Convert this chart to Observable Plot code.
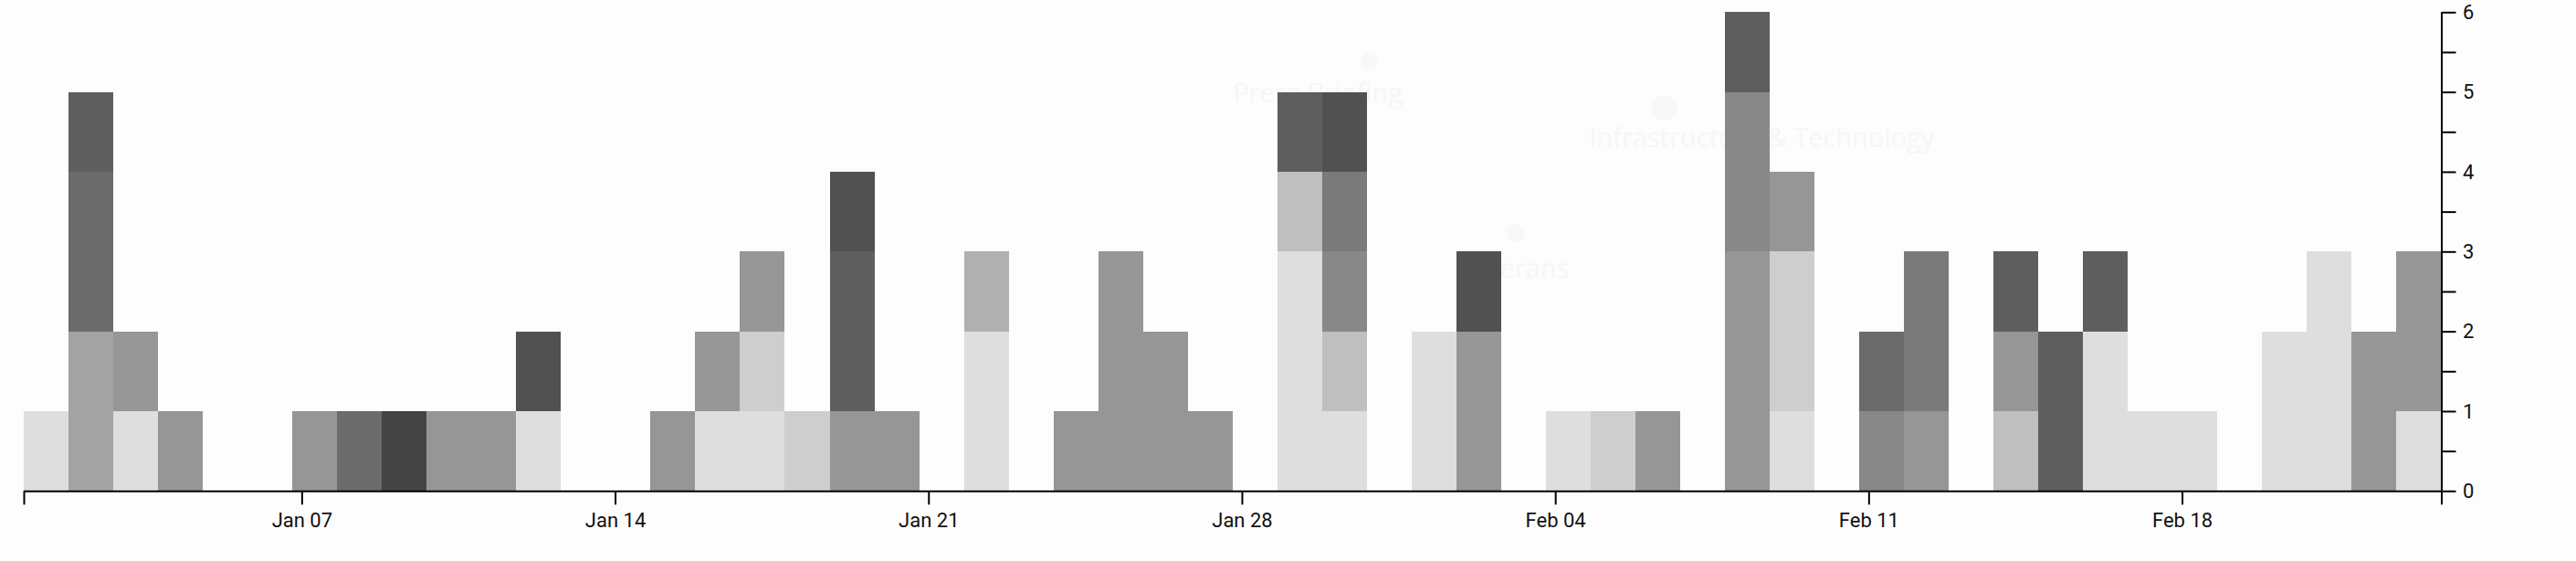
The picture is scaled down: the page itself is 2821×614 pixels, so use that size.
<!DOCTYPE html>
<html>
<head>
<meta charset="utf-8">
<script src="https://cdn.jsdelivr.net/npm/d3@7"></script>
<script src="https://cdn.jsdelivr.net/npm/@observablehq/plot@0.6"></script>
<style>
  html, body { margin: 0; padding: 0; background: #fdfdfd; }
  #chart svg { display: block; }
</style>
</head>
<body>
<div id="chart"></div>
<script>
// ---- data ----
const startDate = "2024-01-01";
const endDate = "2024-02-24";   // exclusive end of the last day (Feb 23)

const categories = ["Category 1","Category 2","Category 3","Category 4","Category 5","Category 6",
                    "Category 7","Category 8","Category 9","Category 10","Category 11","Category 12"];
const greys = ["#dedede","#cecece","#bfbfbf","#b0b0b0","#a3a3a3","#969696",
               "#888888","#7a7a7a","#6b6b6b","#5e5e5e","#515151","#444444"];

// daily counts, Jan 01 .. Feb 23 (54 days), one array per category
const cat1  = [1,0,1,0,0,0,0,0,0,0, 0,1,0,0,0,1,1,0,0,0, 0,2,0,0,0,0,0,0,3,1, 0,2,0,0,1,0,0,0,0,1, 0,0,0,0,0,0,2,1,1,0, 2,3,0,1];
const cat2  = [0,0,0,0,0,0,0,0,0,0, 0,0,0,0,0,0,1,1,0,0, 0,0,0,0,0,0,0,0,0,0, 0,0,0,0,0,1,0,0,0,2, 0,0,0,0,0,0,0,0,0,0, 0,0,0,0];
const cat3  = [0,0,0,0,0,0,0,0,0,0, 0,0,0,0,0,0,0,0,0,0, 0,0,0,0,0,0,0,0,1,1, 0,0,0,0,0,0,0,0,0,0, 0,0,0,0,1,0,0,0,0,0, 0,0,0,0];
const cat4  = [0,0,0,0,0,0,0,0,0,0, 0,0,0,0,0,0,0,0,0,0, 0,1,0,0,0,0,0,0,0,0, 0,0,0,0,0,0,0,0,0,0, 0,0,0,0,0,0,0,0,0,0, 0,0,0,0];
const cat5  = [0,2,0,0,0,0,0,0,0,0, 0,0,0,0,0,0,0,0,0,0, 0,0,0,0,0,0,0,0,0,0, 0,0,0,0,0,0,0,0,0,0, 0,0,0,0,0,0,0,0,0,0, 0,0,0,0];
const cat6  = [0,0,1,1,0,0,1,0,0,1, 1,0,0,0,1,1,1,0,1,1, 0,0,0,1,3,2,1,0,0,0, 0,0,2,0,0,0,1,0,3,1, 0,0,1,0,1,0,0,0,0,0, 0,0,2,2];
const cat7  = [0,0,0,0,0,0,0,0,0,0, 0,0,0,0,0,0,0,0,0,0, 0,0,0,0,0,0,0,0,0,1, 0,0,0,0,0,0,0,0,2,0, 0,1,0,0,0,0,0,0,0,0, 0,0,0,0];
const cat8  = [0,0,0,0,0,0,0,0,0,0, 0,0,0,0,0,0,0,0,0,0, 0,0,0,0,0,0,0,0,0,1, 0,0,0,0,0,0,0,0,0,0, 0,0,2,0,0,0,0,0,0,0, 0,0,0,0];
const cat9  = [0,2,0,0,0,0,0,1,0,0, 0,0,0,0,0,0,0,0,0,0, 0,0,0,0,0,0,0,0,0,0, 0,0,0,0,0,0,0,0,0,0, 0,1,0,0,0,0,0,0,0,0, 0,0,0,0];
const cat10 = [0,1,0,0,0,0,0,0,0,0, 0,0,0,0,0,0,0,0,2,0, 0,0,0,0,0,0,0,0,1,0, 0,0,0,0,0,0,0,0,1,0, 0,0,0,0,1,2,1,0,0,0, 0,0,0,0];
const cat11 = [0,0,0,0,0,0,0,0,0,0, 0,1,0,0,0,0,0,0,1,0, 0,0,0,0,0,0,0,0,0,1, 0,0,1,0,0,0,0,0,0,0, 0,0,0,0,0,0,0,0,0,0, 0,0,0,0];
const cat12 = [0,0,0,0,0,0,0,0,1,0, 0,0,0,0,0,0,0,0,0,0, 0,0,0,0,0,0,0,0,0,0, 0,0,0,0,0,0,0,0,0,0, 0,0,0,0,0,0,0,0,0,0, 0,0,0,0];
const seriesCounts = [cat1,cat2,cat3,cat4,cat5,cat6,cat7,cat8,cat9,cat10,cat11,cat12];

// weekly ticks (local midnight, US Eastern) and labels
const xTickDates  = ["2024-01-07T00:00-05:00","2024-01-14T00:00-05:00","2024-01-21T00:00-05:00",
                     "2024-01-28T00:00-05:00","2024-02-04T00:00-05:00","2024-02-11T00:00-05:00",
                     "2024-02-18T00:00-05:00"];
const xTickLabels = ["Jan 07","Jan 14","Jan 21","Jan 28","Feb 04","Feb 11","Feb 18"];
const yTicks      = [0,0.5,1,1.5,2,2.5,3,3.5,4,4.5,5,5.5,6];
const yTickLabels = ["0","","1","","2","","3","","4","","5","","6"];

// faint background labels
const ghostLabels  = ["Press Briefing","Infrastructure & Technology","Veterans"];
const ghostLabelX  = ["2024-01-29T21:30Z","2024-02-08T19:30Z","2024-02-03T07:00Z"];
const ghostLabelY  = [4.87, 4.31, 2.68];
const ghostDotX    = ["2024-01-31T01:00Z","2024-02-06T15:20Z","2024-02-03T07:30Z"];
const ghostDotY    = [5.39, 4.80, 3.24];
const ghostDotR    = [9.5, 14, 10];

// ---- build ----
const days = d3.utcDay.range(new Date(startDate), new Date(endDate));
const rows = [];
seriesCounts.forEach((arr, ci) => {
  arr.forEach((c, di) => {
    if (c > 0) rows.push({date: days[di], next: d3.utcDay.offset(days[di], 1), category: categories[ci], count: c});
  });
});
const allTicks = [new Date(startDate), ...xTickDates.map(d => new Date(d)), new Date(endDate)];
const tickLabelMap = new Map(xTickDates.map((d, i) => [+new Date(d), xTickLabels[i]]));
const yLabelMap = new Map(yTicks.map((v, i) => [v, yTickLabels[i]]));
const labelsData = ghostLabels.map((t, i) => ({text: t, x: new Date(ghostLabelX[i]), y: ghostLabelY[i]}));
const dotsData = ghostDotX.map((d, i) => ({x: new Date(d), y: ghostDotY[i], r: ghostDotR[i]}));

const font = "Roboto, 'Open Sans', sans-serif";

const chart = Plot.plot({
  width: 2821,
  height: 614,
  marginLeft: 26,
  marginRight: 147.5,
  marginTop: 13.3,
  marginBottom: 76.7,
  style: {background: "transparent", fontFamily: font, color: "#111"},
  x: {type: "utc", domain: [new Date(startDate), new Date(endDate)], axis: null},
  y: {domain: [0, 6], axis: null},
  r: {type: "identity"},
  color: {domain: categories, range: greys},
  marks: [
    Plot.dot(dotsData, {x: "x", y: "y", r: "r", fill: "#f8f8f8", stroke: null}),
    Plot.text(labelsData, {x: "x", y: "y", text: "text", fill: "#f6f6f6", fontSize: 29,
                           lineAnchor: "bottom", textAnchor: "middle", fontFamily: "'Open Sans', sans-serif"}),
    Plot.rectY(rows, {x1: "date", x2: "next", y: "count", fill: "category", inset: 0,
                      shapeRendering: "crispEdges"}),
    Plot.ruleY([0], {stroke: "#000", strokeWidth: 2}),
    Plot.ruleX([new Date(endDate)], {stroke: "#000", strokeWidth: 2}),
    Plot.axisX({ticks: allTicks, tickFormat: d => tickLabelMap.get(+d) ?? "", tickSize: 15,
                tickPadding: 9, fontSize: 22, strokeWidth: 2, stroke: "#000", fontFamily: font}),
    Plot.axisY({anchor: "right", ticks: yTicks, tickFormat: d => yLabelMap.get(d) ?? "", tickSize: 15,
                tickPadding: 8, fontSize: 22, strokeWidth: 2, stroke: "#000", fontFamily: font})
  ]
});
document.getElementById("chart").appendChild(chart);
</script>
</body>
</html>
